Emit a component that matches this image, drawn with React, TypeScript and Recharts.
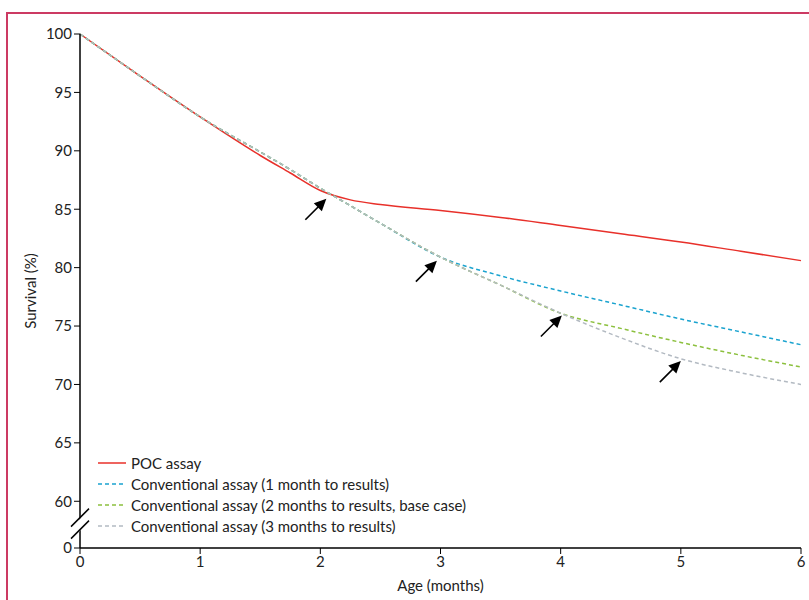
import {
  LineChart,
  Line,
  XAxis,
  YAxis,
  ReferenceDot,
} from "recharts";

const months = [0, 0.5, 1, 1.5, 1.75, 2, 2.25, 2.5, 3, 3.5, 4, 4.5, 5, 5.5, 6];
const poc = [100, 96.4, 92.9, 89.6, 88.1, 86.6, 85.8, 85.4, 84.9, 84.3, 83.6, 82.9, 82.2, 81.4, 80.6];
const conv1 = [100, 96.4, 92.9, 89.9, 88.4, 86.8, 85.3, 83.8, 80.9, 79.3, 78.0, 76.8, 75.6, 74.5, 73.4];
const conv2 = [100, 96.4, 92.9, 89.9, 88.4, 86.8, 85.3, 83.8, 80.9, 78.5, 76.1, 74.8, 73.6, 72.5, 71.5];
const conv3 = [100, 96.4, 92.9, 89.9, 88.4, 86.8, 85.3, 83.8, 80.9, 78.5, 76.1, 74.0, 72.2, 71.0, 70.0];

// arrow tips (month, survival)
const arrowX = [2.05, 2.97, 4.01, 5.0];
const arrowY = [85.9, 80.6, 75.9, 72.0];

const xTicks = [0, 1, 2, 3, 4, 5, 6];
// 56 on the scale stands for the broken-axis zero
const yTicks = [56, 60, 65, 70, 75, 80, 85, 90, 95, 100];

const data = months.map((m, i) => ({
  month: m,
  poc: poc[i],
  conv1: conv1[i],
  conv2: conv2[i],
  conv3: conv3[i],
}));

const FONT = "Lato, 'Open Sans', sans-serif";

const series = [
  { key: "poc", name: "POC assay", color: "#e8302a", dash: undefined },
  { key: "conv1", name: "Conventional assay (1 month to results)", color: "#1aa3cf", dash: "4 3" },
  { key: "conv2", name: "Conventional assay (2 months to results, base case)", color: "#8cc03e", dash: "4 3" },
  { key: "conv3", name: "Conventional assay (3 months to results)", color: "#b3bac2", dash: "4 3" },
];

const Arrow = (props: any) => {
  const { cx, cy } = props;
  const tx = cx - 21;
  const ty = cy + 21;
  return (
    <g>
      <line x1={tx} y1={ty} x2={cx - 6} y2={cy + 6} stroke="#000" strokeWidth={1.6} />
      <polygon
        points={`${cx},${cy} ${cx - 12.5},${cy + 4.5} ${cx - 4.5},${cy + 12.5}`}
        fill="#000"
      />
    </g>
  );
};

const AxisBreak = (props: any) => {
  const { cx, cy } = props;
  return (
    <g>
      <polygon
        points={`${cx - 8},${cy + 2} ${cx + 9},${cy - 15} ${cx + 9},${cy - 3} ${cx - 8},${cy + 14}`}
        fill="#fff"
      />
      <line x1={cx - 9} y1={cy + 2} x2={cx + 9} y2={cy - 16} stroke="#000" strokeWidth={1.5} />
      <line x1={cx - 9} y1={cy + 14} x2={cx + 9} y2={cy - 4} stroke="#000" strokeWidth={1.5} />
    </g>
  );
};

const LegendBox = () => (
  <div style={{ position: "absolute", left: 98, top: 452, fontFamily: FONT, fontSize: 15, color: "#222" }}>
    {series.map((s) => (
      <div key={s.key} style={{ display: "flex", alignItems: "center", height: 21 }}>
        <svg width={30} height={10} style={{ marginRight: 3 }}>
          <line x1={0} y1={5} x2={28} y2={5} stroke={s.color} strokeWidth={1.5} strokeDasharray={s.dash} />
        </svg>
        <span>{s.name}</span>
      </div>
    ))}
  </div>
);

export default function App() {
  return (
    <div style={{ position: "absolute", left: 0, top: 0, width: 809, height: 600, background: "#fff" }}>
      <div
        style={{
          position: "absolute",
          left: 6,
          top: 12,
          width: 803,
          height: 588,
          borderLeft: "2px solid #cc3a63",
          borderTop: "2px solid #cc3a63",
        }}
      />
      <LineChart
        width={809}
        height={600}
        data={data}
        margin={{ top: 34, right: 8, bottom: 12, left: 20 }}
        style={{ position: "absolute", left: 0, top: 0 }}
      >
        <XAxis
          dataKey="month"
          type="number"
          domain={[0, 6]}
          ticks={xTicks}
          height={40}
          axisLine={{ stroke: "#000", strokeWidth: 1.5 }}
          tickLine={{ stroke: "#000", strokeWidth: 1 }}
          tickSize={6}
          tick={{ fill: "#222", fontSize: 15, fontFamily: FONT }}
          label={{
            value: "Age (months)",
            position: "insideBottom",
            offset: -3,
            style: { fill: "#222", fontSize: 15, fontFamily: FONT },
          }}
        />
        <YAxis
          type="number"
          domain={[56, 100]}
          ticks={yTicks}
          width={60}
          interval={0}
          axisLine={{ stroke: "#000", strokeWidth: 1.5 }}
          tickLine={{ stroke: "#000", strokeWidth: 1 }}
          tickSize={6}
          tick={{ fill: "#222", fontSize: 15, fontFamily: FONT }}
          tickFormatter={(v: number) => (v === 56 ? "0" : String(v))}
          label={{
            value: "Survival (%)",
            angle: -90,
            position: "insideLeft",
            offset: 11,
            style: { fill: "#222", fontSize: 15, fontFamily: FONT, textAnchor: "middle" },
          }}
        />
        {series.map((s) => (
          <Line
            key={s.key}
            dataKey={s.key}
            name={s.name}
            type="monotone"
            stroke={s.color}
            strokeWidth={1.5}
            strokeDasharray={s.dash}
            dot={false}
            isAnimationActive={false}
          />
        ))}
        <ReferenceDot x={0} y={58} ifOverflow="visible" shape={AxisBreak} />
        {arrowX.map((x, i) => (
          <ReferenceDot key={i} x={x} y={arrowY[i]} ifOverflow="visible" shape={Arrow} />
        ))}
      </LineChart>
      <LegendBox />
    </div>
  );
}
